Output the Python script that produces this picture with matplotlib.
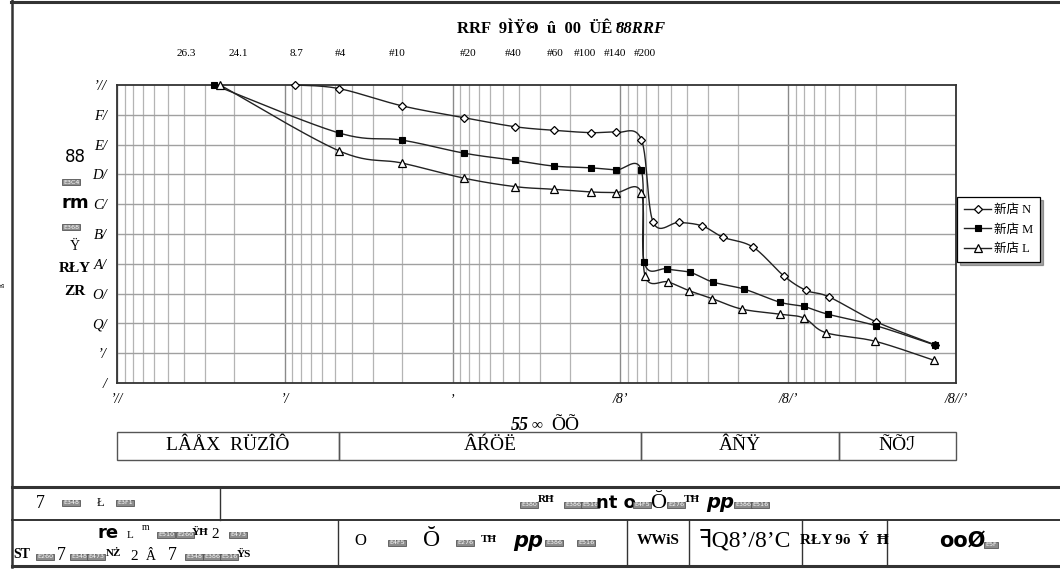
import numpy as np
import matplotlib
matplotlib.use("Agg")
import matplotlib.pyplot as plt
from matplotlib.lines import Line2D
from matplotlib.patches import Rectangle
import matplotlib.transforms as mtransforms

plt.rcParams['font.family'] = ['Liberation Serif', 'DejaVu Sans', 'Noto Sans CJK SC']

W, H = 1060, 571

# ---------------- data ----------------
series_names = ["新店 N", "新店 M", "新店 L"]

n_size = [8.69, 4.75, 2.0, 0.85, 0.425, 0.25, 0.15, 0.106, 0.075,
          0.0637, 0.0448, 0.0325, 0.0244, 0.0162, 0.0106, 0.00783, 0.00571, 0.00301, 0.00133]
n_pass = [100, 98.8, 93.0, 89.0, 86.0, 84.8, 84.0, 84.1, 81.7,
          53.9, 53.9, 52.7, 48.9, 45.6, 35.9, 31.1, 28.9, 20.6, 12.8]

m_size = [26.4, 4.75, 2.0, 0.85, 0.425, 0.25, 0.15, 0.106, 0.075,
          0.0721, 0.0530, 0.0383, 0.0282, 0.0183, 0.0112, 0.00809, 0.00582, 0.00299, 0.00133]
m_pass = [100, 83.9, 81.5, 77.1, 74.7, 72.8, 72.2, 71.5, 71.4,
          40.5, 38.3, 37.1, 33.9, 31.5, 27.1, 25.7, 23.1, 19.2, 12.7]

l_size = [24.3, 4.75, 2.0, 0.85, 0.425, 0.25, 0.15, 0.106, 0.075,
          0.0713, 0.0518, 0.0390, 0.0283, 0.0189, 0.0112, 0.00805, 0.00598, 0.00303, 0.00135]
l_pass = [100, 77.9, 73.8, 68.7, 65.9, 65.0, 64.1, 63.9, 63.8,
          36.0, 33.9, 31.0, 28.3, 24.8, 23.1, 21.8, 16.9, 14.0, 7.6]

top_labels = ["26.3", "24.1", "8.7", "#4", "#10", "#20", "#40", "#60", "#100", "#140", "#200"]
top_label_pos = [38.8, 19.0, 8.5, 4.69, 2.15, 0.81, 0.434, 0.245, 0.163, 0.107, 0.071]

x_tick_vals = [100, 10, 1, 0.1, 0.01, 0.001]
x_tick_text = ["\u2019//", "\u2019/", "\u2019", "/8\u2019", "/8/\u2019", "/8//\u2019"]
y_tick_vals = [0, 10, 20, 30, 40, 50, 60, 70, 80, 90, 100]
y_tick_text = ["/", "\u2019/", "Q/", "O/", "A/", "B/", "C/", "D/", "E/", "F/", "\u2019//"]

class_bounds = [100, 4.75, 0.075, 0.005, 0.001]
class_text = ["L\u00c2\u00c5X  R\u00dcZ\u00ce\u00d4", "\u00c2\u0154\u00d6\u00cb", "\u00c2\u00d1\u0178", "\u00d1\u00d5\u2110"]

# ---------------- figure ----------------
fig = plt.figure(figsize=(W / 100, H / 100), dpi=100)

def fx(x):
    return x / W

def fy(y):
    return 1 - y / H

ax = fig.add_axes([fx(117), fy(383), fx(956) - fx(117), fy(85) - fy(383)])
ax.set_xscale('log')
ax.set_xlim(100, 0.001)
ax.set_ylim(0, 100)

# grid
for dec in range(-3, 2):
    for k in range(2, 10):
        ax.axvline(k * 10.0 ** dec, color='#b4b4b4', lw=0.9, zorder=1)
for v in x_tick_vals:
    ax.axvline(v, color='#8a8a8a', lw=1.0, zorder=1)
for v in y_tick_vals[1:-1]:
    ax.axhline(v, color='#a0a0a0', lw=1.0, zorder=1)

ax.set_xticks(x_tick_vals)
ax.set_xticklabels(x_tick_text, fontsize=10, style='italic')
ax.set_yticks(y_tick_vals)
ax.set_yticklabels(y_tick_text, fontsize=10.5, style='italic')
ax.xaxis.set_minor_locator(matplotlib.ticker.NullLocator())
ax.tick_params(axis='both', length=0, pad=7)
for s in ax.spines.values():
    s.set_linewidth(1.3)
    s.set_color('#333333')

# smoothing like spreadsheet "smoothed line" (Catmull-Rom in screen space)
PXD = (956 - 117) / 5.0
PYP = (383 - 85) / 100.0

def smooth(sz, pc, nseg=24):
    u = -np.log10(np.asarray(sz, float)) * PXD
    v = np.asarray(pc, float) * PYP
    P = np.column_stack([u, v])
    P = np.vstack([P[0], P, P[-1]])
    out = []
    t = np.linspace(0, 1, nseg, endpoint=False)[:, None]
    for i in range(1, len(P) - 2):
        p0, p1, p2, p3 = P[i - 1], P[i], P[i + 1], P[i + 2]
        c1 = p1 + (p2 - p0) / 6.0
        c2 = p2 - (p3 - p1) / 6.0
        b = ((1 - t) ** 3) * p1 + 3 * ((1 - t) ** 2) * t * c1 + 3 * (1 - t) * t ** 2 * c2 + t ** 3 * p2
        out.append(b)
    out.append(P[-2][None, :])
    B = np.vstack(out)
    return 10 ** (-B[:, 0] / PXD), B[:, 1] / PYP

styles = [dict(marker='D', ms=4.2, mfc='white', mec='black', mew=0.9),
          dict(marker='s', ms=4.8, mfc='black', mec='black', mew=0.8),
          dict(marker='^', ms=6.0, mfc='white', mec='black', mew=0.9)]
handles = []
for (sz, pc), st, name in zip([(n_size, n_pass), (m_size, m_pass), (l_size, l_pass)], styles, series_names):
    xs, ys = smooth(sz, pc)
    ax.plot(xs, ys, color='#222222', lw=1.0, zorder=3, clip_on=False)
    ax.plot(sz, pc, ls='none', zorder=4, clip_on=False, **st)
    handles.append(Line2D([0], [0], color='#222222', lw=1.0, **st))

leg = fig.legend(handles, series_names, loc='upper left',
                 bbox_to_anchor=(fx(957), fy(197)), frameon=True, fancybox=False,
                 shadow=True, edgecolor='black', handlelength=2.2,
                 handletextpad=0.2, borderpad=0.55, labelspacing=0.6, borderaxespad=0,
                 prop={'family': ['Liberation Serif', 'Noto Sans CJK SC'], 'size': 9})
leg.get_frame().set_linewidth(0.9)

# top sieve labels
trans_top = mtransforms.blended_transform_factory(ax.transData, fig.transFigure)
for lab, pos in zip(top_labels, top_label_pos):
    fig.text(pos, fy(53), lab, transform=trans_top, ha='center', va='center', fontsize=8)

# class band under the chart
band = mtransforms.blended_transform_factory(ax.transData, fig.transFigure)
for i in range(len(class_bounds) - 1):
    a, b = class_bounds[i], class_bounds[i + 1]
    fig.add_artist(Rectangle((a, fy(460)), b - a, fy(432) - fy(460), transform=band,
                             fill=False, edgecolor='#555555', lw=1.0))
    cx = 10 ** ((np.log10(a) + np.log10(b)) / 2)
    fig.text(cx, fy(446), class_text[i], transform=band, ha='center', va='center', fontsize=14)

# axis label (garbled)
fig.text(fx(520), fy(425), "55", fontsize=13, weight='bold', style='italic', ha='center', va='center')
fig.text(fx(537), fy(425), "\u221e", fontsize=11, style='italic', ha='center', va='center')
fig.text(fx(565), fy(425), "\u00d5\u00d5", fontsize=14, ha='center', va='center')

# title (garbled)
fig.text(fx(457), fy(29), "RRF  9\u00cc\u0178\u0398  \u00fb  00  \u00dc\u00ca \u02b3", fontsize=12,
         ha='left', va='center', weight='bold')
fig.text(fx(616), fy(29), "88RRF", fontsize=12, ha='left', va='center', weight='bold', style='italic')

# missing-glyph box helper
def pua(x, y, code, fs=4.6):
    fig.text(fx(x), fy(y), code, fontsize=fs, color='white', ha='left', va='center',
             family='DejaVu Sans',
             bbox=dict(boxstyle='square,pad=0.15', fc='#8c8c8c', ec='#555555', lw=0.6))

# y label stack (garbled)
fig.text(fx(75), fy(157), "88", fontsize=12, ha='center', va='center', family='DejaVu Sans')
pua(63, 182, "E3C4")
fig.text(fx(75), fy(203), "rm", fontsize=13, weight='bold', ha='center', va='center', family='DejaVu Sans')
pua(63, 227, "E368")
fig.text(fx(75), fy(246), "\u0178", fontsize=10, ha='center', va='center')
fig.text(fx(75), fy(268), "R\u0141Y", fontsize=11, weight='bold', ha='center', va='center')
fig.text(fx(75), fy(291), "ZR", fontsize=11, weight='bold', ha='center', va='center')
fig.text(fx(3), fy(285), "\u00df", fontsize=6, ha='center', va='center', rotation=90)

# frame and table lines
def hline(y, x0, x1, lw=1.2, c='#333333'):
    fig.add_artist(Line2D([fx(x0), fx(x1)], [fy(y), fy(y)], transform=fig.transFigure, lw=lw, color=c))

def vline(x, y0, y1, lw=1.2, c='#333333'):
    fig.add_artist(Line2D([fx(x), fx(x)], [fy(y0), fy(y1)], transform=fig.transFigure, lw=lw, color=c))

hline(1.5, 11, 1060, lw=2.2)
vline(12, 0, 567, lw=1.8)
hline(487, 12, 1060, lw=2.2)
hline(520, 12, 1060, lw=1.4)
hline(566, 12, 1060, lw=2.2)
vline(220, 487, 520, lw=1.0)
for xv in [338, 627, 689, 802, 887]:
    vline(xv, 520, 566, lw=1.0)

# table row 1
fig.text(fx(40), fy(503), "7", fontsize=13, ha='center', va='center')
pua(63, 503, "E348")
fig.text(fx(101), fy(503), "\u0141", fontsize=9, ha='center', va='center')
pua(117, 503, "E3F1")

pua(521, 505, "E380")
fig.text(fx(546), fy(500), "R\u0126", fontsize=8, weight='bold', ha='center', va='center')
pua(565, 505, "E386")
pua(582, 505, "E516")
fig.text(fx(616), fy(503), "nt o", fontsize=13, weight='bold', ha='center', va='center', family='DejaVu Sans')
pua(634, 505, "E4F5")
fig.text(fx(658), fy(503), "\u014e", fontsize=16, ha='center', va='center')
pua(668, 505, "E276")
fig.text(fx(692), fy(500), "T\u0126", fontsize=8, weight='bold', ha='center', va='center')
fig.text(fx(720), fy(503), "pp", fontsize=14, weight='bold', style='italic', ha='center', va='center',
         family='DejaVu Sans')
pua(735, 505, "E386")
pua(752, 505, "E516")

# table row 2
fig.text(fx(108), fy(533), "re", fontsize=13, weight='bold', ha='center', va='center', family='DejaVu Sans')
fig.text(fx(130), fy(535), "L", fontsize=8, ha='center', va='center')
fig.text(fx(146), fy(528), "m", fontsize=7, ha='center', va='center')
pua(158, 535, "E510")
pua(177, 535, "E260")
fig.text(fx(200), fy(532), "\u0178\u0126", fontsize=8, weight='bold', ha='center', va='center')
fig.text(fx(215), fy(535), "2", fontsize=11, ha='center', va='center')
pua(230, 535, "E473")

fig.text(fx(22), fy(555), "ST", fontsize=10, weight='bold', ha='center', va='center')
pua(37, 557, "E260")
fig.text(fx(61), fy(556), "7", fontsize=13, ha='center', va='center')
pua(71, 557, "E348")
pua(88, 557, "E473")
fig.text(fx(114), fy(554), "N\u017b", fontsize=8, weight='bold', ha='center', va='center')
fig.text(fx(134), fy(556), "2", fontsize=11, ha='center', va='center')
fig.text(fx(151), fy(556), "\u00c2", fontsize=10, ha='center', va='center')
fig.text(fx(172), fy(556), "7", fontsize=13, ha='center', va='center')
pua(186, 557, "E348")
pua(204, 557, "E386")
pua(221, 557, "E516")
fig.text(fx(244), fy(554), "\u0178S", fontsize=8, weight='bold', ha='center', va='center')

fig.text(fx(360), fy(541), "O", fontsize=12, ha='center', va='center')
pua(389, 543, "E4F5")
fig.text(fx(432), fy(541), "\u014e", fontsize=17, ha='center', va='center')
pua(457, 543, "E276")
fig.text(fx(489), fy(539), "T\u0126", fontsize=8, weight='bold', ha='center', va='center')
fig.text(fx(528), fy(541), "pp", fontsize=15, weight='bold', style='italic', ha='center', va='center',
         family='DejaVu Sans')
pua(546, 543, "E386")
pua(578, 543, "E516")

fig.text(fx(658), fy(540), "WWiS", fontsize=11, weight='bold', ha='center', va='center')
fig.text(fx(745), fy(541), "\ua7fbQ8\u2019/8\u2019C", fontsize=17, ha='center', va='center')
fig.text(fx(844), fy(541), "R\u0141Y 9\u014f  \u00dd  \u0126", fontsize=11, weight='bold', ha='center', va='center')
fig.text(fx(962), fy(541), "oo\u00d8", fontsize=15, weight='bold', ha='center', va='center',
         family='DejaVu Sans')
pua(985, 545, "E5F")

fig.savefig("out.png", dpi=100)
